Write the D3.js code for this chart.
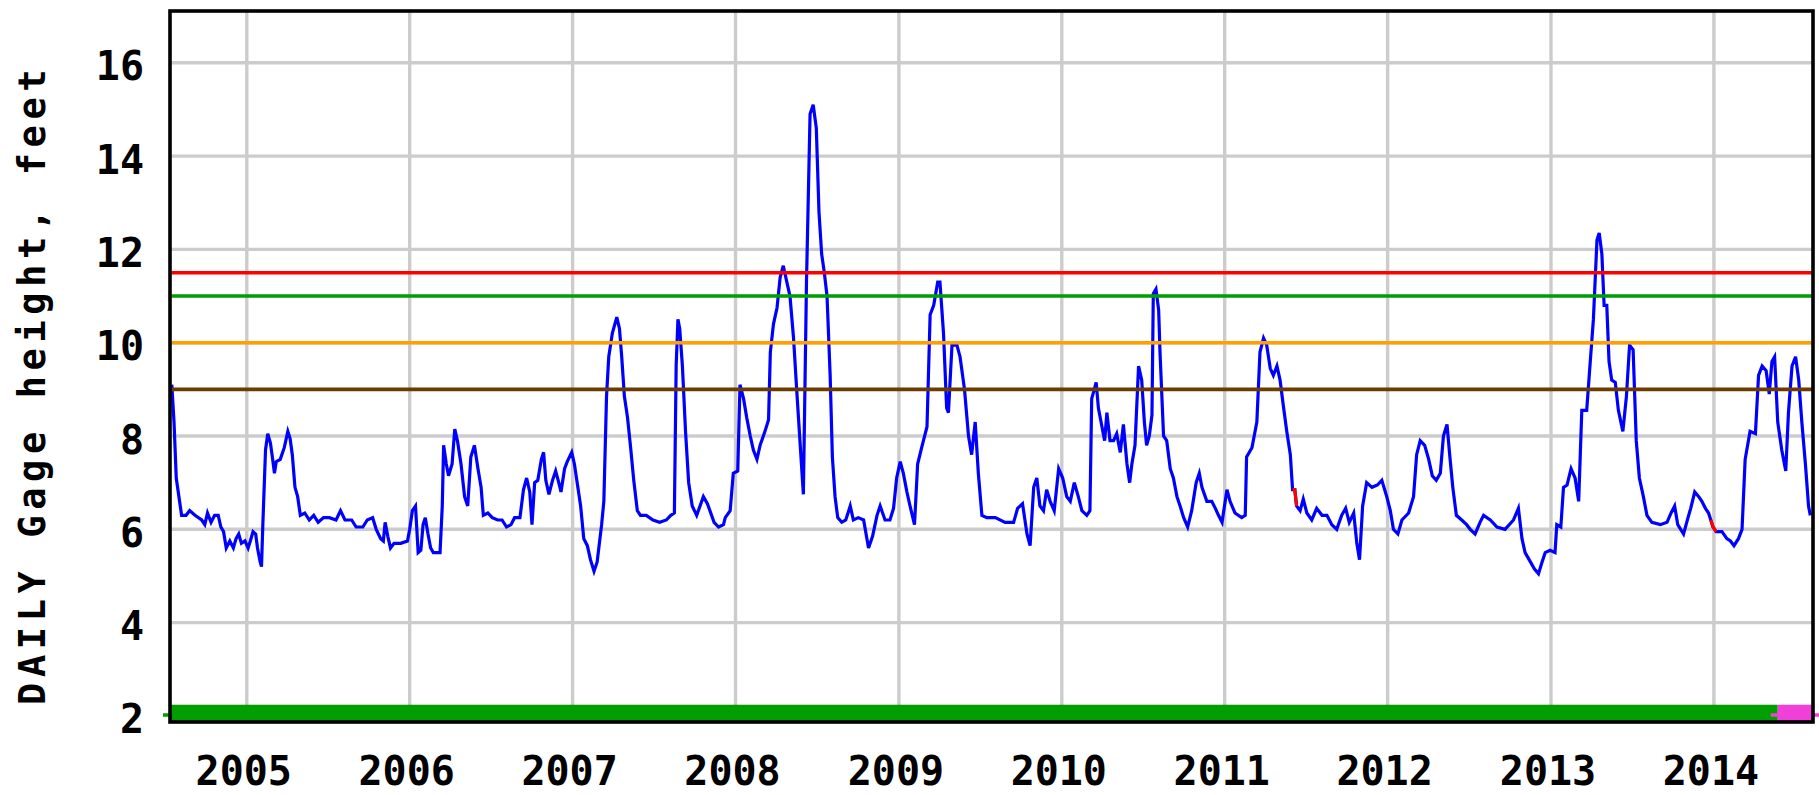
<!DOCTYPE html>
<html>
<head>
<meta charset="utf-8">
<script src="https://cdn.jsdelivr.net/npm/d3@7"></script>
<style>
  html, body { margin: 0; padding: 0; background: #fff; }
  svg { display: block; }
  text { font-family: "DejaVu Sans Mono", "Liberation Mono", monospace; font-weight: bold; fill: #000; }
</style>
</head>
<body>
<div id="chart"></div>
<script>
// Daily gage height readings (date, feet)
var gage2004 = [["2004-07-17",9.1],["2004-07-22",8.3],["2004-07-27",7.1],["2004-08-02",6.7],["2004-08-08",6.3],["2004-08-18",6.3],["2004-08-26",6.4],["2004-09-07",6.3],["2004-09-22",6.2],["2004-09-29",6.1],["2004-10-05",6.35],["2004-10-13",6.15],["2004-10-21",6.3],["2004-10-29",6.3],["2004-11-04",6.05],["2004-11-10",5.95],["2004-11-16",5.6],["2004-11-24",5.75],["2004-12-02",5.6],["2004-12-08",5.8],["2004-12-14",5.9],["2004-12-20",5.7],["2004-12-28",5.75]];
var gage2005 = [["2005-01-04",5.6],["2005-01-09",5.75],["2005-01-15",5.95],["2005-01-21",5.9],["2005-01-25",5.6],["2005-01-31",5.3],["2005-02-03",5.2],["2005-02-06",6.1],["2005-02-12",7.7],["2005-02-17",8.05],["2005-02-23",7.85],["2005-02-28",7.5],["2005-03-04",7.2],["2005-03-08",7.45],["2005-03-17",7.5],["2005-03-26",7.75],["2005-04-03",8.1],["2005-04-08",7.95],["2005-04-13",7.6],["2005-04-19",6.9],["2005-04-25",6.7],["2005-05-01",6.3],["2005-05-11",6.35],["2005-05-21",6.2],["2005-05-31",6.3],["2005-06-10",6.15],["2005-06-22",6.25],["2005-07-05",6.25],["2005-07-20",6.2],["2005-07-30",6.4],["2005-08-09",6.2],["2005-08-24",6.2],["2005-09-03",6.05],["2005-09-18",6.05],["2005-09-28",6.2],["2005-10-10",6.25],["2005-10-18",6.0],["2005-10-28",5.8],["2005-11-03",5.75],["2005-11-07",6.15],["2005-11-13",5.85],["2005-11-19",5.6],["2005-11-27",5.7],["2005-12-12",5.7],["2005-12-27",5.75]];
var gage2006 = [["2006-01-01",6.0],["2006-01-07",6.4],["2006-01-14",6.5],["2006-01-20",5.5],["2006-01-26",5.55],["2006-01-31",6.1],["2006-02-05",6.25],["2006-02-11",5.9],["2006-02-17",5.6],["2006-02-23",5.5],["2006-03-10",5.5],["2006-03-15",6.5],["2006-03-18",7.8],["2006-03-24",7.4],["2006-03-29",7.15],["2006-04-06",7.4],["2006-04-12",8.15],["2006-04-18",7.9],["2006-04-26",7.4],["2006-05-04",6.7],["2006-05-11",6.5],["2006-05-18",7.55],["2006-05-26",7.8],["2006-06-03",7.3],["2006-06-10",6.9],["2006-06-15",6.3],["2006-06-25",6.35],["2006-07-05",6.25],["2006-07-17",6.2],["2006-07-27",6.2],["2006-08-06",6.05],["2006-08-16",6.1],["2006-08-24",6.25],["2006-09-05",6.25],["2006-09-13",6.85],["2006-09-20",7.1],["2006-09-27",6.8],["2006-10-02",6.1],["2006-10-08",7.0],["2006-10-15",7.05],["2006-10-23",7.5],["2006-10-28",7.65],["2006-11-02",7.05],["2006-11-09",6.75],["2006-11-17",7.05],["2006-11-24",7.25],["2006-12-01",7.0],["2006-12-06",6.8],["2006-12-14",7.3],["2006-12-20",7.45],["2006-12-30",7.65]];
var gage2007 = [["2007-01-05",7.4],["2007-01-12",6.95],["2007-01-19",6.5],["2007-01-26",5.8],["2007-02-03",5.65],["2007-02-10",5.35],["2007-02-18",5.1],["2007-02-25",5.3],["2007-03-07",6.1],["2007-03-12",6.6],["2007-03-18",8.85],["2007-03-23",9.7],["2007-03-31",10.2],["2007-04-10",10.55],["2007-04-16",10.3],["2007-04-21",9.7],["2007-04-27",8.85],["2007-05-04",8.4],["2007-05-11",7.75],["2007-05-18",7.05],["2007-05-26",6.4],["2007-06-02",6.3],["2007-06-15",6.3],["2007-06-30",6.2],["2007-07-15",6.15],["2007-07-30",6.2],["2007-08-09",6.3],["2007-08-17",6.35],["2007-08-21",9.5],["2007-08-25",10.5],["2007-08-29",10.3],["2007-09-04",9.5],["2007-09-11",8.1],["2007-09-18",7.0],["2007-09-26",6.5],["2007-10-06",6.3],["2007-10-21",6.7],["2007-10-30",6.55],["2007-11-14",6.15],["2007-11-24",6.05],["2007-12-05",6.1],["2007-12-09",6.25],["2007-12-20",6.4],["2007-12-27",7.2]];
var gage2008 = [["2008-01-06",7.25],["2008-01-11",9.1],["2008-01-19",8.8],["2008-01-26",8.4],["2008-02-03",8.0],["2008-02-10",7.7],["2008-02-18",7.5],["2008-02-25",7.8],["2008-03-07",8.1],["2008-03-15",8.35],["2008-03-19",9.8],["2008-03-26",10.4],["2008-04-03",10.75],["2008-04-10",11.4],["2008-04-17",11.65],["2008-04-25",11.3],["2008-05-02",11.0],["2008-05-10",10.1],["2008-05-17",9.0],["2008-05-25",7.8],["2008-06-01",6.75],["2008-06-08",11.3],["2008-06-16",14.9],["2008-06-23",15.1],["2008-06-30",14.6],["2008-07-06",12.8],["2008-07-12",11.9],["2008-07-18",11.5],["2008-07-24",11.0],["2008-07-31",9.3],["2008-08-05",7.55],["2008-08-11",6.7],["2008-08-17",6.25],["2008-08-26",6.15],["2008-09-04",6.2],["2008-09-14",6.5],["2008-09-21",6.2],["2008-10-02",6.25],["2008-10-14",6.2],["2008-10-25",5.6],["2008-11-03",5.85],["2008-11-13",6.3],["2008-11-20",6.5],["2008-12-01",6.2],["2008-12-12",6.2],["2008-12-20",6.45],["2008-12-27",7.1]];
var gage2009 = [["2009-01-04",7.45],["2009-01-11",7.2],["2009-01-19",6.8],["2009-01-26",6.5],["2009-02-05",6.1],["2009-02-12",7.4],["2009-02-21",7.75],["2009-03-05",8.2],["2009-03-12",10.6],["2009-03-20",10.8],["2009-03-29",11.3],["2009-04-03",11.3],["2009-04-11",10.2],["2009-04-18",8.6],["2009-04-22",8.5],["2009-04-30",9.95],["2009-05-11",9.95],["2009-05-18",9.7],["2009-05-28",9.0],["2009-06-06",8.0],["2009-06-13",7.6],["2009-06-21",8.3],["2009-06-28",7.2],["2009-07-06",6.3],["2009-07-17",6.25],["2009-08-05",6.25],["2009-08-27",6.15],["2009-09-15",6.15],["2009-09-24",6.45],["2009-10-05",6.55],["2009-10-15",5.9],["2009-10-22",5.65],["2009-10-30",6.9],["2009-11-06",7.1],["2009-11-13",6.5],["2009-11-21",6.4],["2009-11-28",6.85],["2009-12-06",6.6],["2009-12-15",6.4],["2009-12-25",7.3]];
var gage2010 = [["2010-01-03",7.1],["2010-01-12",6.7],["2010-01-20",6.6],["2010-01-29",7.0],["2010-02-07",6.7],["2010-02-15",6.4],["2010-02-26",6.3],["2010-03-05",6.4],["2010-03-09",8.8],["2010-03-19",9.15],["2010-03-24",8.6],["2010-04-01",8.2],["2010-04-07",7.9],["2010-04-12",8.5],["2010-04-19",7.9],["2010-04-27",7.9],["2010-05-04",8.05],["2010-05-12",7.65],["2010-05-19",8.25],["2010-05-27",7.4],["2010-06-02",7.0],["2010-06-07",7.4],["2010-06-14",7.8],["2010-06-22",9.5],["2010-06-29",9.2],["2010-07-05",8.3],["2010-07-10",7.8],["2010-07-16",8.0],["2010-07-22",8.45],["2010-07-25",11.05],["2010-07-31",11.15],["2010-08-06",10.7],["2010-08-09",9.8],["2010-08-17",8.0],["2010-08-24",7.9],["2010-09-01",7.3],["2010-09-08",7.1],["2010-09-16",6.7],["2010-09-23",6.5],["2010-10-01",6.25],["2010-10-10",6.05],["2010-10-19",6.4],["2010-10-29",7.0],["2010-11-05",7.2],["2010-11-11",6.9],["2010-11-22",6.6],["2010-12-03",6.6],["2010-12-11",6.45],["2010-12-18",6.3],["2010-12-26",6.15]];
var gage2011 = [["2011-01-06",6.85],["2011-01-13",6.6],["2011-01-24",6.35],["2011-02-08",6.25],["2011-02-16",6.3],["2011-02-19",7.55],["2011-03-03",7.75],["2011-03-14",8.3],["2011-03-21",9.8],["2011-03-29",10.1],["2011-04-05",9.95],["2011-04-13",9.45],["2011-04-20",9.3],["2011-04-28",9.5],["2011-05-05",9.2],["2011-05-13",8.6],["2011-05-20",8.1],["2011-05-28",7.6],["2011-06-02",6.85],["2011-06-07",6.85],["2011-06-11",6.5],["2011-06-19",6.4],["2011-06-26",6.65],["2011-07-04",6.35],["2011-07-15",6.2],["2011-07-26",6.45],["2011-08-07",6.3],["2011-08-18",6.3],["2011-08-29",6.1],["2011-09-09",6.0],["2011-09-20",6.3],["2011-09-29",6.45],["2011-10-07",6.15],["2011-10-17",6.35],["2011-10-24",5.7],["2011-10-30",5.35],["2011-11-06",6.5],["2011-11-15",7.0],["2011-11-27",6.9],["2011-12-09",6.95],["2011-12-19",7.05],["2011-12-30",6.7]];
var gage2012 = [["2012-01-07",6.4],["2012-01-14",6.0],["2012-01-24",5.9],["2012-02-02",6.2],["2012-02-17",6.35],["2012-02-28",6.7],["2012-03-06",7.6],["2012-03-14",7.9],["2012-03-24",7.8],["2012-04-02",7.5],["2012-04-10",7.15],["2012-04-19",7.05],["2012-04-28",7.2],["2012-05-05",8.0],["2012-05-13",8.25],["2012-05-19",7.6],["2012-05-26",6.9],["2012-06-03",6.3],["2012-06-15",6.2],["2012-06-26",6.1],["2012-07-04",6.0],["2012-07-15",5.9],["2012-07-26",6.15],["2012-08-03",6.3],["2012-08-18",6.2],["2012-09-02",6.05],["2012-09-20",6.0],["2012-10-09",6.2],["2012-10-20",6.45],["2012-10-28",5.8],["2012-11-04",5.5],["2012-11-13",5.35],["2012-11-25",5.15],["2012-12-04",5.05],["2012-12-12",5.3],["2012-12-19",5.5],["2012-12-30",5.55]];
var gage2013 = [["2013-01-10",5.5],["2013-01-14",6.1],["2013-01-23",6.05],["2013-01-29",6.9],["2013-02-06",6.95],["2013-02-15",7.3],["2013-02-24",7.1],["2013-03-04",6.6],["2013-03-11",8.55],["2013-03-22",8.55],["2013-03-30",9.6],["2013-04-06",10.5],["2013-04-14",12.2],["2013-04-19",12.35],["2013-04-25",11.9],["2013-04-30",10.8],["2013-05-06",10.8],["2013-05-11",9.6],["2013-05-17",9.2],["2013-05-25",9.15],["2013-06-01",8.55],["2013-06-11",8.1],["2013-06-19",8.85],["2013-06-26",9.95],["2013-07-04",9.85],["2013-07-11",7.9],["2013-07-18",7.1],["2013-07-27",6.7],["2013-08-04",6.3],["2013-08-15",6.15],["2013-09-03",6.1],["2013-09-18",6.15],["2013-09-27",6.35],["2013-10-05",6.5],["2013-10-12",6.1],["2013-10-25",5.9],["2013-11-04",6.25],["2013-11-10",6.45],["2013-11-19",6.8],["2013-11-28",6.7],["2013-12-05",6.6],["2013-12-13",6.45],["2013-12-20",6.35],["2013-12-25",6.2],["2013-12-30",6.05]];
var gage2014 = [["2014-01-06",5.95],["2014-01-19",5.95],["2014-01-30",5.8],["2014-02-07",5.75],["2014-02-15",5.65],["2014-02-25",5.8],["2014-03-05",6.0],["2014-03-12",7.5],["2014-03-23",8.1],["2014-04-04",8.05],["2014-04-11",9.3],["2014-04-19",9.5],["2014-04-28",9.4],["2014-05-05",8.9],["2014-05-11",9.6],["2014-05-17",9.7],["2014-05-24",8.3],["2014-06-02",7.7],["2014-06-11",7.25],["2014-06-17",8.5],["2014-06-25",9.5],["2014-07-03",9.7],["2014-07-10",9.2],["2014-07-17",8.3],["2014-07-25",7.4],["2014-08-01",6.5],["2014-08-05",6.3]];

// stretches of the record drawn in red
var redSpans = [["2011-06-02", "2011-06-11"], ["2013-12-25", "2014-01-06"]];

// horizontal reference stages, feet
var stageLevels = [11.5, 11.0, 10.0, 9.0];
var stageColors = ["#ff0000", "#009e00", "#ffa000", "#6b3c00"];

// status bar along the bottom
var statusStarts = ["2004-07-13", "2014-05-24"];
var statusEnds = ["2014-05-24", "2014-08-11"];
var statusColors = ["#009e00", "#f040d8"];

var yTicks = [2, 4, 6, 8, 10, 12, 14, 16];
var yearLabels = ["2005", "2006", "2007", "2008", "2009", "2010", "2011", "2012", "2013", "2014"];
var yTitle = "DAILY Gage height, feet";

var gageSeries = [].concat(gage2004, gage2005, gage2006, gage2007, gage2008, gage2009,
  gage2010, gage2011, gage2012, gage2013, gage2014);

var parseDay = d3.utcParse("%Y-%m-%d");
var data = gageSeries.map(d => ({ date: parseDay(d[0]), value: d[1] }));

// layout
var width = 1819, height = 795;
var margin = { top: 11, right: 6, bottom: 73, left: 170 };
var plotW = width - margin.left - margin.right;
var plotH = height - margin.top - margin.bottom;

var svg = d3.select("#chart")
  .append("svg")
  .attr("width", width)
  .attr("height", height);

svg.append("rect").attr("width", width).attr("height", height).attr("fill", "#fff");

var g = svg.append("g")
  .attr("transform", `translate(${margin.left}, ${margin.top})`);

// scales
var x = d3.scaleUtc()
  .domain([parseDay("2004-07-13"), parseDay("2014-08-11")])
  .range([0, plotW]);

var y = d3.scaleLinear()
  .domain([1.87, 17.11])
  .range([plotH, 0]);

var yearDates = yearLabels.map(s => parseDay(s + "-01-01"));

// grid
g.append("g")
  .selectAll("line")
  .data(yTicks)
  .enter()
  .append("line")
  .attr("x1", 0)
  .attr("x2", plotW)
  .attr("y1", d => y(d))
  .attr("y2", d => y(d))
  .attr("stroke", "#cccccc")
  .attr("stroke-width", 3.4);

g.append("g")
  .selectAll("line")
  .data(yearDates)
  .enter()
  .append("line")
  .attr("x1", d => x(d))
  .attr("x2", d => x(d))
  .attr("y1", 0)
  .attr("y2", plotH)
  .attr("stroke", "#cccccc")
  .attr("stroke-width", 3.4);

// the data line
var line = d3.line()
  .x(d => x(d.date))
  .y(d => y(d.value));

g.append("path")
  .datum(data)
  .attr("fill", "none")
  .attr("stroke", "#0000ff")
  .attr("stroke-width", 3.2)
  .attr("d", line);

redSpans.forEach(function (s) {
  var a = parseDay(s[0]), b = parseDay(s[1]);
  g.append("path")
    .datum(data.filter(d => d.date >= a && d.date <= b))
    .attr("fill", "none")
    .attr("stroke", "#ff0000")
    .attr("stroke-width", 3.2)
    .attr("d", line);
});

// stage lines
g.append("g")
  .selectAll("line")
  .data(stageLevels)
  .enter()
  .append("line")
  .attr("x1", 0)
  .attr("x2", plotW)
  .attr("y1", d => y(d))
  .attr("y2", d => y(d))
  .attr("stroke", (d, i) => stageColors[i])
  .attr("stroke-width", 3.6);

// status bar (thin lead line + band)
statusStarts.forEach(function (s, i) {
  var x0 = x(parseDay(s)), x1 = x(parseDay(statusEnds[i]));
  g.append("line")
    .attr("x1", x0 - 7)
    .attr("x2", x1 + 6)
    .attr("y1", y(2.02))
    .attr("y2", y(2.02))
    .attr("stroke", statusColors[i])
    .attr("stroke-width", 3.4);
  g.append("rect")
    .attr("x", x0)
    .attr("y", y(2.24))
    .attr("width", x1 - x0)
    .attr("height", plotH - y(2.24))
    .attr("fill", statusColors[i]);
});

// frame
g.append("rect")
  .attr("x", 0)
  .attr("y", 0)
  .attr("width", plotW)
  .attr("height", plotH)
  .attr("fill", "none")
  .attr("stroke", "#000")
  .attr("stroke-width", 3.6);

// y tick labels
g.append("g")
  .selectAll("text")
  .data(yTicks)
  .enter()
  .append("text")
  .attr("x", -26)
  .attr("y", d => y(d) + 17.5)
  .attr("text-anchor", "end")
  .style("font-size", "40px")
  .text(d => d);

// year labels
g.append("g")
  .selectAll("text")
  .data(yearDates)
  .enter()
  .append("text")
  .attr("x", d => x(d) - 3)
  .attr("y", plotH + 63)
  .attr("text-anchor", "middle")
  .style("font-size", "40px")
  .text((d, i) => yearLabels[i]);

// y axis title
svg.append("text")
  .attr("transform", "translate(45, 705) rotate(-90)")
  .attr("text-anchor", "start")
  .style("font-size", "37px")
  .style("letter-spacing", "5.6px")
  .text(yTitle);
</script>
</body>
</html>
